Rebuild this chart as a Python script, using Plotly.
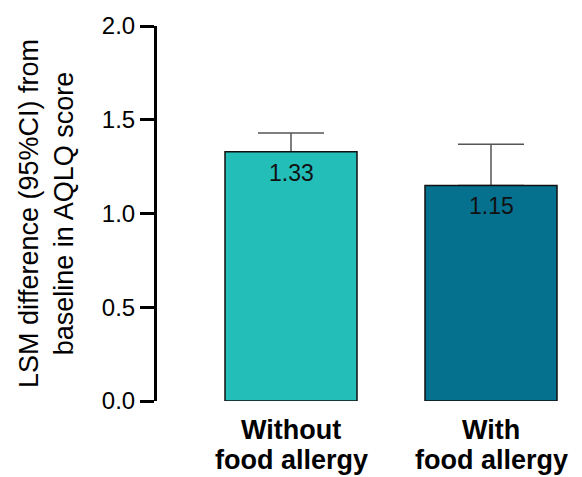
import plotly.graph_objects as go

# Least-squares mean change from baseline in AQLQ score, by food-allergy status
categories = ["Without<br>food allergy", "With<br>food allergy"]
lsm_values = [1.33, 1.15]
ci_upper = [1.43, 1.37]
bar_colors = ["#23BEB8", "#05718F"]
y_ticks = [0.0, 0.5, 1.0, 1.5, 2.0]

x_pos = list(range(len(categories)))
err_plus = [u - v for u, v in zip(ci_upper, lsm_values)]

FONT = "Liberation Sans, Arial, sans-serif"
BAR_WIDTH = 0.66

fig = go.Figure()

# Upper CI whiskers first, so the filled bars sit on top of them
fig.add_trace(
    go.Bar(
        x=x_pos,
        y=lsm_values,
        width=BAR_WIDTH,
        marker=dict(color="rgba(0,0,0,0)", line=dict(width=0)),
        error_y=dict(
            type="data",
            symmetric=False,
            array=err_plus,
            arrayminus=[0] * len(lsm_values),
            color="#555555",
            thickness=1.5,
            width=33,
        ),
        hoverinfo="skip",
    )
)

fig.add_trace(
    go.Bar(
        x=x_pos,
        y=lsm_values,
        width=BAR_WIDTH,
        marker=dict(color=bar_colors, line=dict(color="#111111", width=1.5)),
        hoverinfo="skip",
    )
)

# Value labels just inside the top of each bar
for xp, v in zip(x_pos, lsm_values):
    fig.add_annotation(
        x=xp, y=v, xref="x", yref="y",
        text=f"{v:.2f}",
        showarrow=False,
        yanchor="top",
        yshift=-6,
        font=dict(family=FONT, size=23, color="#111111"),
    )

# Two-line bold category labels under the bars
for xp, cat in zip(x_pos, categories):
    for i, line in enumerate(cat.split("<br>")):
        fig.add_annotation(
            x=xp, y=0, xref="x", yref="paper",
            text=f"<b>{line}</b>",
            showarrow=False,
            yanchor="middle",
            yshift=-29 - 30 * i,
            font=dict(family=FONT, size=27, color="#000000"),
        )

fig.update_layout(
    width=582,
    height=477,
    margin=dict(l=157, r=0, t=26, b=76),
    paper_bgcolor="white",
    plot_bgcolor="white",
    showlegend=False,
    barmode="overlay",
    font=dict(family=FONT, color="#000000"),
)

fig.update_xaxes(
    range=[-0.67, 1.455],
    tickmode="array",
    tickvals=x_pos,
    showticklabels=False,
    showline=False,
    showgrid=False,
    zeroline=False,
    ticks="",
)

fig.update_yaxes(
    range=[0, 2],
    tickmode="array",
    tickvals=y_ticks,
    ticktext=[f"{t:.1f}" for t in y_ticks],
    tickfont=dict(family=FONT, size=24, color="#000000"),
    showline=True,
    linecolor="#000000",
    linewidth=3,
    ticks="outside",
    ticklen=14,
    tickwidth=3,
    tickcolor="#000000",
    showgrid=False,
    zeroline=False,
    automargin=False,
    title=dict(
        text="LSM difference (95%CI) from<br>baseline in AQLQ score",
        font=dict(family=FONT, size=27, color="#000000"),
        standoff=21,
    ),
)

fig.write_html("out.html")
